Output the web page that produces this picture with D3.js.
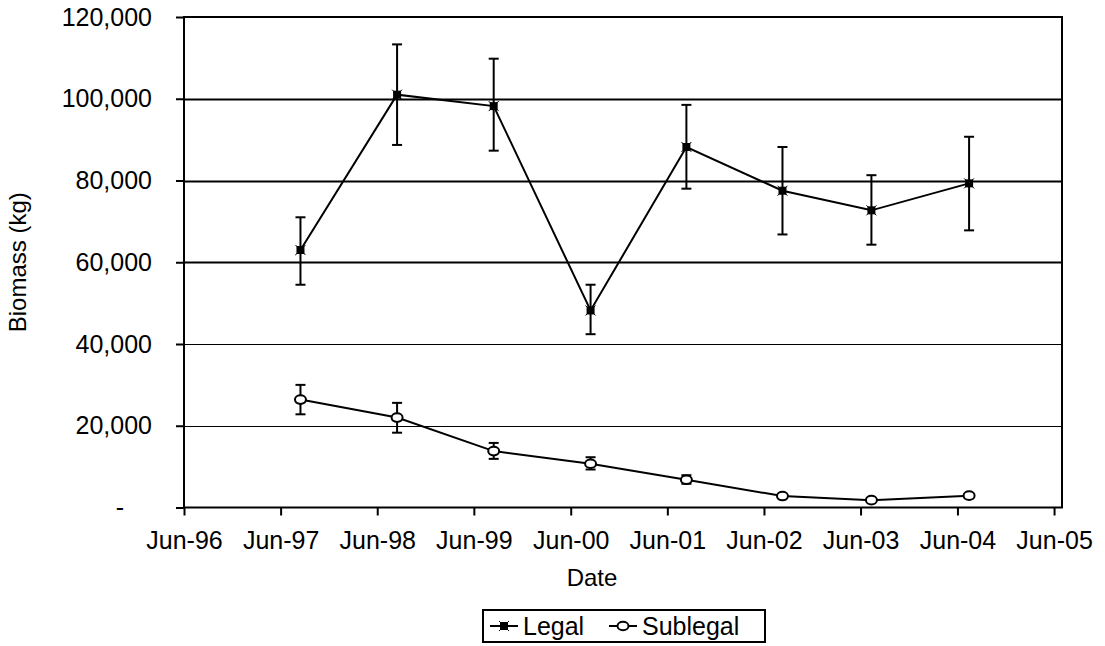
<!DOCTYPE html>
<html>
<head>
<meta charset="utf-8">
<script src="https://cdn.jsdelivr.net/npm/d3@7"></script>
<style>
  html, body { margin: 0; padding: 0; background: #fff; }
  svg { display: block; }
  text { font-family: "Liberation Sans", Arial, sans-serif; fill: #000; }
</style>
</head>
<body>
<svg id="chart" width="1105" height="646"></svg>
<script>
// Survey dates (one per annual survey)
const surveyDates = ["1997-08-15", "1998-08-15", "1999-08-15", "2000-08-15",
                     "2001-08-12", "2002-08-10", "2003-07-12", "2004-07-15"];

// Legal-size biomass (kg) with lower / upper error limits
const legalBiomass = [63000, 101000, 98200, 48200, 88200, 77500, 72700, 79300];
const legalLower   = [54500,  88700, 87300, 42400, 78000, 66800, 64300, 67800];
const legalUpper   = [71000, 113300, 109800, 54500, 98500, 88200, 81300, 90700];

// Sublegal biomass (kg) with lower / upper error limits
const sublegalBiomass = [26400, 22000, 13800, 10700, 6800, 2800, 1800, 2900];
const sublegalLower   = [22800, 18300, 11900,  9300, 5800, 2400, 1500, 2500];
const sublegalUpper   = [30000, 25600, 15800, 12300, 7900, 3200, 2100, 3300];

// Axis ticks
const yTickValues = [0, 20000, 40000, 60000, 80000, 100000, 120000];
const xTickDates  = ["1996-06-01", "1997-06-01", "1998-06-01", "1999-06-01", "2000-06-01",
                     "2001-06-01", "2002-06-01", "2003-06-01", "2004-06-01", "2005-06-01"];
const xDomain     = ["1996-06-01", "2005-07-01"];

const seriesNames = ["Legal", "Sublegal"];

const parse = d3.utcParse("%Y-%m-%d");
const svg = d3.select("#chart");

const plot = { left: 184, right: 1062, top: 17, bottom: 507.5 };

const x = d3.scaleUtc().domain(xDomain.map(parse)).range([plot.left, plot.right]);
const y = d3.scaleLinear().domain([0, 120000]).range([plot.bottom, plot.top]);

const tickFont = 25;
const titleFont = 24;

// Horizontal gridlines
svg.append("g").selectAll("line")
  .data(yTickValues.filter(v => v > 0 && v < 120000))
  .join("line")
  .attr("x1", plot.left).attr("x2", plot.right)
  .attr("y1", d => Math.round(y(d)) + 0.5).attr("y2", d => Math.round(y(d)) + 0.5)
  .attr("stroke", "#000")
  .attr("stroke-width", d => d >= 60000 ? 1.8 : 1);

// Y axis
const fmtY = d => d === 0 ? "-" : d3.format(",")(d);
const yAxis = d3.axisLeft(y).tickValues(yTickValues).tickFormat(fmtY)
  .tickSizeInner(8).tickSizeOuter(0).tickPadding(24);
const gy = svg.append("g").attr("transform", `translate(${plot.left},0)`).call(yAxis);
gy.select(".domain").remove();
gy.selectAll(".tick line").attr("stroke", "#000").attr("stroke-width", 2);
gy.selectAll(".tick text")
  .attr("font-size", tickFont)
  .attr("font-family", "Liberation Sans, Arial, sans-serif")
  .attr("dx", d => d === 0 ? -28 : 0);

// X axis
const xAxis = d3.axisBottom(x).tickValues(xTickDates.map(parse))
  .tickFormat(d3.utcFormat("%b-%y")).tickSizeInner(8).tickSizeOuter(0).tickPadding(16);
const gx = svg.append("g").attr("transform", `translate(0,${plot.bottom})`).call(xAxis);
gx.select(".domain").remove();
gx.selectAll(".tick line").attr("stroke", "#000").attr("stroke-width", 2);
gx.selectAll(".tick text")
  .attr("font-size", tickFont)
  .attr("font-family", "Liberation Sans, Arial, sans-serif");

// Plot frame
svg.append("rect")
  .attr("x", plot.left).attr("y", plot.top)
  .attr("width", plot.right - plot.left).attr("height", plot.bottom - plot.top)
  .attr("fill", "none").attr("stroke", "#000").attr("stroke-width", 2);

// Axis titles
svg.append("text")
  .attr("x", 592).attr("y", 586)
  .attr("text-anchor", "middle").attr("font-size", titleFont)
  .text("Date");
svg.append("text")
  .attr("transform", `translate(26,${(plot.top + plot.bottom) / 2}) rotate(-90)`)
  .attr("text-anchor", "middle").attr("font-size", titleFont)
  .text("Biomass (kg)");

// Build series rows
const dates = surveyDates.map(parse);
const legal = dates.map((d, i) => ({ date: d, v: legalBiomass[i], lo: legalLower[i], hi: legalUpper[i] }));
const sublegal = dates.map((d, i) => ({ date: d, v: sublegalBiomass[i], lo: sublegalLower[i], hi: sublegalUpper[i] }));

const line = d3.line().x(d => x(d.date)).y(d => y(d.v));

function drawErrorBars(rows) {
  const g = svg.append("g").attr("stroke", "#000").attr("stroke-width", 2);
  g.selectAll("line.v").data(rows).join("line").attr("class", "v")
    .attr("x1", d => x(d.date)).attr("x2", d => x(d.date))
    .attr("y1", d => y(d.lo)).attr("y2", d => y(d.hi));
  g.selectAll("line.t").data(rows).join("line").attr("class", "t")
    .attr("x1", d => x(d.date) - 5).attr("x2", d => x(d.date) + 5)
    .attr("y1", d => y(d.hi)).attr("y2", d => y(d.hi));
  g.selectAll("line.b").data(rows).join("line").attr("class", "b")
    .attr("x1", d => x(d.date) - 5).attr("x2", d => x(d.date) + 5)
    .attr("y1", d => y(d.lo)).attr("y2", d => y(d.lo));
}

drawErrorBars(legal);
drawErrorBars(sublegal);

svg.append("path").datum(legal).attr("d", line)
  .attr("fill", "none").attr("stroke", "#000").attr("stroke-width", 2);
svg.append("path").datum(sublegal).attr("d", line)
  .attr("fill", "none").attr("stroke", "#000").attr("stroke-width", 2);

// Markers: filled square with small corner ticks for legal, open circle for sublegal
function legalMarker(g) {
  g.append("path").attr("d", "M-5,-5L5,5M-5,5L5,-5")
    .attr("stroke", "#000").attr("stroke-width", 1);
  g.append("rect").attr("x", -4).attr("y", -4).attr("width", 8).attr("height", 8)
    .attr("fill", "#000");
}
function sublegalMarker(g) {
  g.append("ellipse").attr("rx", 5.5).attr("ry", 4.3)
    .attr("fill", "#fff").attr("stroke", "#000").attr("stroke-width", 2);
}

svg.append("g").selectAll("g").data(legal).join("g")
  .attr("transform", d => `translate(${x(d.date)},${y(d.v)})`)
  .each(function () { legalMarker(d3.select(this)); });
svg.append("g").selectAll("g").data(sublegal).join("g")
  .attr("transform", d => `translate(${x(d.date)},${y(d.v)})`)
  .each(function () { sublegalMarker(d3.select(this)); });

// Legend
const legend = svg.append("g");
legend.append("rect").attr("x", 483).attr("y", 610).attr("width", 282).attr("height", 32)
  .attr("fill", "#fff").attr("stroke", "#000").attr("stroke-width", 2);
const legendItems = [
  { name: seriesNames[0], x: 490, marker: legalMarker },
  { name: seriesNames[1], x: 609, marker: sublegalMarker }
];
legendItems.forEach(it => {
  const g = legend.append("g");
  g.append("line").attr("x1", it.x).attr("x2", it.x + 28).attr("y1", 626).attr("y2", 626)
    .attr("stroke", "#000").attr("stroke-width", 2);
  it.marker(g.append("g").attr("transform", `translate(${it.x + 14},626)`));
  g.append("text").attr("x", it.x + 33).attr("y", 635).attr("font-size", tickFont).text(it.name);
});
</script>
</body>
</html>
